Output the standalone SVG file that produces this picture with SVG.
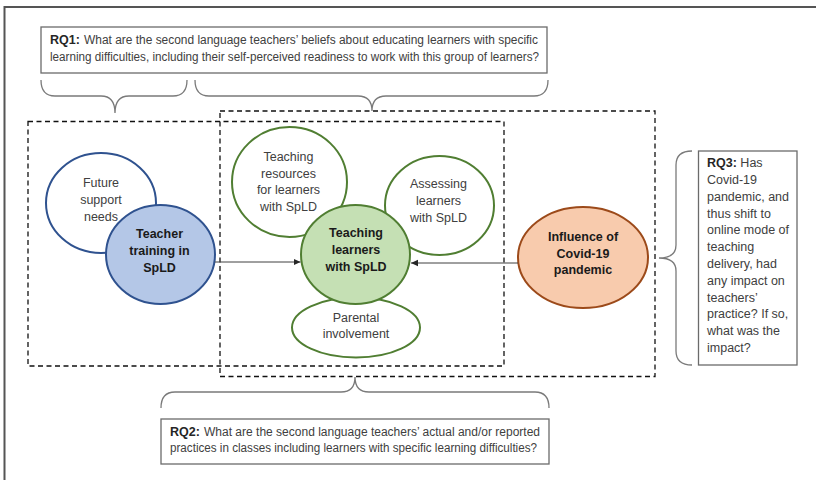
<svg xmlns="http://www.w3.org/2000/svg" width="816" height="480" viewBox="0 0 816 480">
<defs>
<marker id="ah" markerWidth="8" markerHeight="8" refX="7" refY="4" orient="auto" markerUnits="userSpaceOnUse">
<path d="M0,0.8 L7,4 L0,7.2 z" fill="#262626"/>
</marker>
<style>
text{font-family:"Liberation Sans",Arial,sans-serif;}
.t{font-size:12.5px;fill:#404040;}
.n{font-size:12.5px;fill:#404040;text-anchor:middle;}
.b{font-size:12.5px;fill:#1a1a1a;font-weight:bold;text-anchor:middle;}
.rqb{font-weight:bold;fill:#262626;}
.box{fill:#fff;stroke:#6b6b6b;stroke-width:1.3;}
.dash{fill:none;stroke:#111;stroke-width:1.3;stroke-dasharray:5 3.5;}
.brace{fill:none;stroke:#7a7a7a;stroke-width:1.3;}
.conn{stroke:#404040;stroke-width:1;fill:none;marker-end:url(#ah);}
.bl{stroke:#2F528F;stroke-width:2;}
.gr{stroke:#507E32;stroke-width:2;}
.or{stroke:#9C4A1A;stroke-width:2;}
</style>
</defs>
<rect width="816" height="480" fill="#fff"/>
<rect x="4.5" y="7" width="840" height="500" fill="none" stroke="#555" stroke-width="2"/>

<g id="dashed-boxes">
<rect class="dash" x="28" y="121.5" width="476" height="244.5"/>
<rect class="dash" x="220" y="111" width="435" height="265.5"/>
</g>

<g id="rq1">
<rect class="box" x="41" y="27" width="506" height="46"/>
<text class="t rqb" x="50" y="43.5">RQ1:</text>
<text class="t" x="84" y="43.5" textLength="454" lengthAdjust="spacingAndGlyphs">What are the second language teachers’ beliefs about educating learners with specific</text>
<text class="t" x="50" y="61" textLength="489" lengthAdjust="spacingAndGlyphs">learning difficulties, including their self-perceived readiness to work with this group of learners?</text>
<path class="brace" d="M41,80 Q41,96 55,96 L101,96 Q115,96 115,113 Q115,96 129,96 L173,96 Q187,96 187,80"/>
<path class="brace" d="M195,80 Q195,96 209,96 L358,96 Q372,96 372,111 Q372,96 386,96 L534,96 Q548,96 548,80"/>
</g>

<g id="rq2">
<path class="brace" d="M161,408 Q161,392 175,392 L341,392 Q355,392 355,377 Q355,392 369,392 L535,392 Q549,392 549,408"/>
<rect class="box" x="161" y="419" width="388" height="45"/>
<text class="t rqb" x="170" y="436">RQ2:</text>
<text class="t" x="204" y="436" textLength="336" lengthAdjust="spacingAndGlyphs">What are the second language teachers’ actual and/or reported</text>
<text class="t" x="170" y="451.5" textLength="367" lengthAdjust="spacingAndGlyphs">practices in classes including learners with specific learning difficulties?</text>
</g>

<g id="rq3">
<path class="brace" d="M692,151 Q676,151 676,165 L676,245 Q676,258 659,258 Q676,258 676,271 L676,351 Q676,365 692,365"/>
<rect class="box" x="698.5" y="151" width="98.5" height="214"/>
<text class="t" x="707" y="167"><tspan class="rqb">RQ3:</tspan> Has</text>
<text class="t" x="707" y="184">Covid-19</text>
<text class="t" x="707" y="200.8">pandemic, and</text>
<text class="t" x="707" y="217.6">thus shift to</text>
<text class="t" x="707" y="234.4">online mode of</text>
<text class="t" x="707" y="251.2">teaching</text>
<text class="t" x="707" y="268">delivery, had</text>
<text class="t" x="707" y="284.8">any impact on</text>
<text class="t" x="707" y="301.6">teachers’</text>
<text class="t" x="707" y="318.4">practice? If so,</text>
<text class="t" x="707" y="335.2">what was the</text>
<text class="t" x="707" y="352">impact?</text>
</g>

<g id="future-support">
<ellipse class="bl" cx="101" cy="203" rx="55" ry="50" fill="#fff"/>
<text class="n" x="101" y="186.5">Future</text>
<text class="n" x="101" y="203.5">support</text>
<text class="n" x="101" y="220.5">needs</text>
</g>

<g id="teacher-training">
<ellipse class="bl" cx="160.5" cy="254.5" rx="54.5" ry="49.5" fill="#B4C7E7"/>
<text class="b" x="159.5" y="237.5">Teacher</text>
<text class="b" x="159.5" y="255">training in</text>
<text class="b" x="159.5" y="271.5">SpLD</text>
</g>

<g id="teaching-resources">
<ellipse class="gr" cx="289.5" cy="182" rx="57.5" ry="55" fill="#fff"/>
<text class="n" x="288.5" y="160.5">Teaching</text>
<text class="n" x="288.5" y="177.5">resources</text>
<text class="n" x="288.5" y="194">for learners</text>
<text class="n" x="288.5" y="211">with SpLD</text>
</g>

<g id="assessing">
<ellipse class="gr" cx="439.5" cy="205.5" rx="54.5" ry="49.5" fill="#fff"/>
<text class="n" x="438.5" y="187.5">Assessing</text>
<text class="n" x="438.5" y="205">learners</text>
<text class="n" x="438.5" y="221.5">with SpLD</text>
</g>

<g id="parental">
<ellipse class="gr" cx="356" cy="327.5" rx="64" ry="30" fill="#fff"/>
<text class="n" x="356" y="321.5">Parental</text>
<text class="n" x="356" y="338">involvement</text>
</g>

<g id="teaching-learners">
<ellipse class="gr" cx="355.5" cy="254.5" rx="54.5" ry="49.5" fill="#C5E0B4"/>
<text class="b" x="356" y="236.5">Teaching</text>
<text class="b" x="356" y="254">learners</text>
<text class="b" x="356" y="270.5">with SpLD</text>
</g>

<g id="covid">
<ellipse class="or" cx="583" cy="257.5" rx="65" ry="50.5" fill="#F8CBAD"/>
<text class="b" x="583" y="240.5">Influence of</text>
<text class="b" x="583" y="257.5">Covid-19</text>
<text class="b" x="583" y="274">pandemic</text>
</g>

<g id="connectors">
<line class="conn" x1="215" y1="262" x2="300.5" y2="262"/>
<line class="conn" x1="518" y1="263" x2="411" y2="263"/>
</g>
</svg>
